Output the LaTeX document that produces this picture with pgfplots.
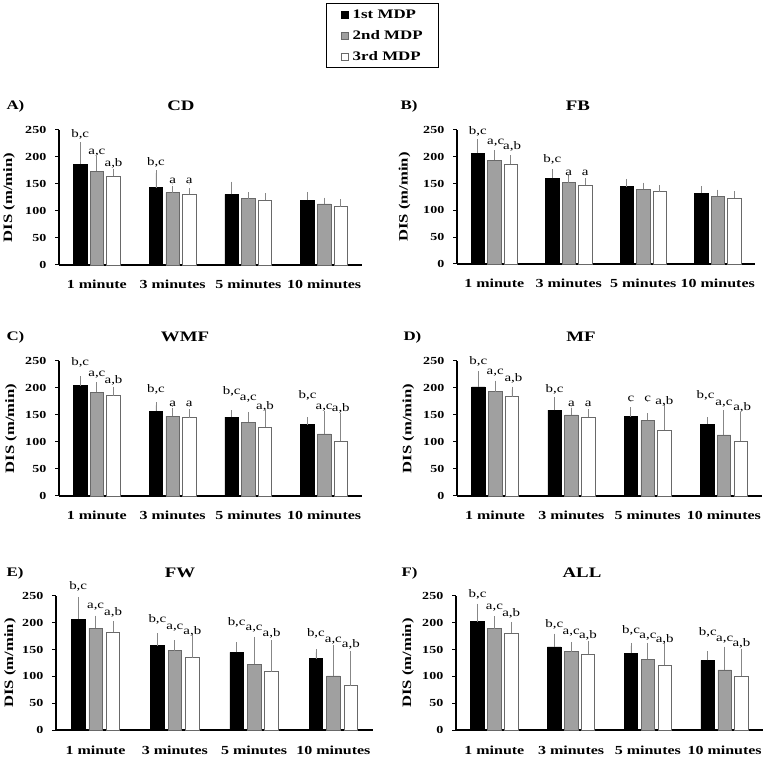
\documentclass[border=0pt]{standalone}
\usepackage{pgfplots}
\pgfplotsset{compat=1.18}
\usepackage{pgfplotstable}
\usepackage{fontspec}
\setmainfont{Liberation Serif}[FakeStretch=1.3]
\newcommand\fs[1]{\fontsize{#1}{#1}\selectfont}
\definecolor{mgray}{RGB}{160,160,160}
\definecolor{edgegray}{RGB}{105,105,105}
\definecolor{errgray}{RGB}{135,135,135}

% columns: category, mean and upper error of 1st, 2nd, 3rd MDP
\pgfplotstableread{
x blk blkE gry gryE wht whtE
0 187 35 174 22 165 8
1 143 27 134 6 131 6
2 131 18 123 6 120 7
3 120 10 113 6 108 8
}\dataA
\pgfplotstableread{
x blk blkE gry gryE wht whtE
0 207 21 194 13 186 12
1 160 12 152 8 147 7
2 144 9 139 7 135 6
3 132 7 126 7 123 7
}\dataB
\pgfplotstableread{
x blk blkE gry gryE wht whtE
0 204 12 192 13 186 11
1 157 11 148 9 145 10
2 146 7 137 13 128 25
3 132 8 115 37 101 47
}\dataC
\pgfplotstableread{
x blk blkE gry gryE wht whtE
0 202 23 193 15 184 13
1 159 18 150 7 146 9
2 147 12 140 8 122 42
3 133 7 113 40 102 48
}\dataD
\pgfplotstableread{
x blk blkE gry gryE wht whtE
0 207 36 190 18 182 15
1 157 18 148 14 135 36
2 145 13 123 45 109 53
3 133 12 101 52 83 59
}\dataE
\pgfplotstableread{
x blk blkE gry gryE wht whtE
0 202 28 189 18 181 15
1 155 19 146 13 141 20
2 143 14 132 25 121 36
3 130 11 112 38 101 45
}\dataF

% significance labels
\pgfplotstableread{
x y lab
-0.22 236 b,c
0 205 a,c
0.22 183 a,b
0.78 185 b,c
1 150 a
1.22 150 a
}\labA
\pgfplotstableread{
x y lab
-0.22 242 b,c
0.02 223 a,c
0.24 213 a,b
0.78 190 b,c
1 166 a
1.22 166 a
}\labB
\pgfplotstableread{
x y lab
-0.22 241 b,c
0 222 a,c
0.22 209 a,b
0.78 191 b,c
1 166 a
1.22 166 a
1.78 188 b,c
2 176 a,c
2.22 160 a,b
2.78 181 b,c
3 160 a,c
3.22 156 a,b
}\labC
\pgfplotstableread{
x y lab
-0.22 244 b,c
0 225 a,c
0.24 212 a,b
0.78 191 b,c
1 165 a
1.22 165 a
1.78 175 c
2 175 c
2.22 170 a,b
2.76 181 b,c
3 168 a,c
3.24 159 a,b
}\labD
\pgfplotstableread{
x y lab
-0.22 262 b,c
0 227 a,c
0.22 213 a,b
0.78 201 b,c
1 187 a,c
1.22 178 a,b
1.78 195 b,c
2 186 a,c
2.22 175 a,b
2.78 174 b,c
3 163 a,c
3.22 154 a,b
}\labE
\pgfplotstableread{
x y lab
-0.22 247 b,c
0 225 a,c
0.22 212 a,b
0.78 191 b,c
1 179 a,c
1.22 170 a,b
1.78 180 b,c
2 170 a,c
2.22 164 a,b
2.78 177 b,c
3 165 a,c
3.22 156 a,b
}\labF

\pgfplotsset{
  panel/.style={
    scale only axis, clip=false, anchor=south west,
    xmin=-0.5, xmax=3.5, ymin=0, ymax=250,
    xtick={0,1,2,3},
    xticklabels={1 minute,3 minutes,5 minutes,10 minutes},
    ytick={0,50,100,150,200,250},
    axis x line*=bottom, axis y line*=left,
    axis line style={black, line width=1.2pt, -},
    xtick style={draw=none},
    ytick style={black, line width=1pt},
    tick align=outside, major tick length=4pt,
    /pgf/number format/assume math mode=true,
    xticklabel style={font=\fs{12.3}\bfseries, anchor=base, yshift=-20pt, inner sep=0pt},
    yticklabel style={font=\fs{10.8}\bfseries, anchor=east, inner sep=0pt, xshift=-8.5pt},
    ylabel={DIS (m/min)},
    every axis y label/.style={at={(axis description cs:#1,0.5)}, rotate=90, anchor=center, font=\fs{12.8}\bfseries},
  },
  errs/.style={error bars/.cd, y dir=plus, y explicit,
    error bar style={errgray, line width=0.8pt},
    error mark options={errgray, mark size=3pt, line width=0.8pt}},
  blkbar/.style={ybar, bar width=13.5pt, bar shift=0pt, fill=black, draw=black, line width=0.7pt, forget plot, errs},
  grybar/.style={ybar, bar width=13.5pt, bar shift=0pt, fill=mgray, draw=edgegray, line width=0.7pt, forget plot, errs},
  whtbar/.style={ybar, bar width=13.5pt, bar shift=0pt, fill=white, draw=edgegray, line width=0.7pt, forget plot, errs},
  labplot/.style={only marks, mark=*, mark size=0.01pt, mark options={draw=none, fill=none}, forget plot,
    nodes near coords, point meta=explicit symbolic,
    every node near coord/.append style={anchor=base, inner sep=0pt, font=\fs{11.5}, text=black}},
}

\newcommand\bars[2]{%
  \addplot[blkbar] table[x expr=\thisrow{x}-0.22, y=blk, y error=blkE] {#1};
  \addplot[grybar] table[x expr=\thisrow{x}, y=gry, y error=gryE] {#1};
  \addplot[whtbar] table[x expr=\thisrow{x}+0.22, y=wht, y error=whtE] {#1};
  \addplot[labplot] table[x=x, y=y, meta=lab] {#2};
}

\begin{document}
\begin{tikzpicture}
\useasboundingbox (0,0) rectangle (765pt,757pt);

% A
\begin{axis}[panel=-0.165, at={(59pt,492pt)}, width=303pt, height=135pt,
  legend style={at={(axis description cs:0.8812,1.9407)}, anchor=north west,
    draw=black, line width=1.2pt, inner xsep=14pt, inner ysep=4.5pt, row sep=8pt,
    font=\fs{13}\bfseries, cells={anchor=west},
    /tikz/every odd column/.append style={column sep=3pt},
    nodes={inner sep=1.5pt, text height=9pt, text depth=1pt}},
  legend cell align=left]
\bars{\dataA}{\labA}
\addlegendimage{legend image code/.code={\draw[black, fill=black, line width=0.6pt] (0pt,-3.5pt) rectangle (7pt,3.5pt);}}
\addlegendentry{1st MDP}
\addlegendimage{legend image code/.code={\draw[edgegray, fill=mgray, line width=0.6pt] (0pt,-3.5pt) rectangle (7pt,3.5pt);}}
\addlegendentry{2nd MDP}
\addlegendimage{legend image code/.code={\draw[edgegray, fill=white, line width=0.6pt] (0pt,-3.5pt) rectangle (7pt,3.5pt);}}
\addlegendentry{3rd MDP}
\end{axis}

% B
\begin{axis}[panel=-0.176, at={(457pt,493pt)}, width=298pt, height=134pt]
\bars{\dataB}{\labB}
\end{axis}

% C
\begin{axis}[panel=-0.158, at={(59pt,261pt)}, width=303pt, height=135pt]
\bars{\dataC}{\labC}
\end{axis}

% D
\begin{axis}[panel=-0.16, at={(457pt,261pt)}, width=305pt, height=135pt]
\bars{\dataD}{\labD}
\end{axis}

% E
\begin{axis}[panel=-0.145, at={(56pt,27pt)}, width=317pt, height=134pt]
\bars{\dataE}{\labE}
\end{axis}

% F
\begin{axis}[panel=-0.156, at={(456pt,27pt)}, width=307pt, height=134pt]
\bars{\dataF}{\labF}
\end{axis}

% panel titles
\node[font=\fs{13}\bfseries, anchor=west] at (3pt,651pt) {A)};
\node[font=\fs{14.5}\bfseries] at (181pt,651pt) {CD};
\node[font=\fs{13}\bfseries, anchor=west] at (397pt,651pt) {B)};
\node[font=\fs{14.5}\bfseries] at (578pt,651pt) {FB};
\node[font=\fs{13}\bfseries, anchor=west] at (3pt,420pt) {C)};
\node[font=\fs{14.5}\bfseries] at (185pt,420pt) {WMF};
\node[font=\fs{13}\bfseries, anchor=west] at (400pt,420pt) {D)};
\node[font=\fs{14.5}\bfseries] at (581pt,420pt) {MF};
\node[font=\fs{13}\bfseries, anchor=west] at (3pt,184pt) {E)};
\node[font=\fs{14.5}\bfseries] at (180pt,184pt) {FW};
\node[font=\fs{13}\bfseries, anchor=west] at (398pt,184pt) {F)};
\node[font=\fs{14.5}\bfseries] at (582pt,184pt) {ALL};
\end{tikzpicture}
\end{document}
